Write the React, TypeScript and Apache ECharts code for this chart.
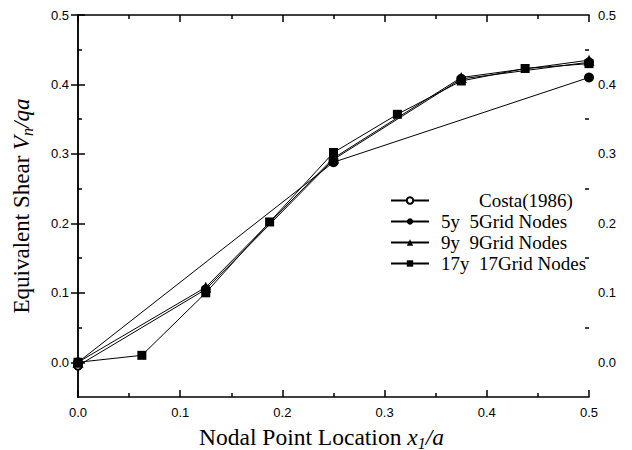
import React, { useEffect, useRef } from "react";
import * as echarts from "echarts";

const costaX = [0, 0.125, 0.25, 0.375, 0.5];
const costaY = [-0.005, 0.105, 0.292, 0.408, 0.432];
const g5X = [0, 0.25, 0.5];
const g5Y = [0, 0.288, 0.41];
const g9X = [0, 0.125, 0.25, 0.375, 0.5];
const g9Y = [0, 0.108, 0.294, 0.41, 0.435];
const g17X = [0, 0.0625, 0.125, 0.1875, 0.25, 0.3125, 0.375, 0.4375, 0.5];
const g17Y = [0, 0.01, 0.1, 0.202, 0.302, 0.357, 0.405, 0.423, 0.43];
const seriesNames = ["Costa(1986)", "5y  5Grid Nodes", "9y  9Grid Nodes", "17y  17Grid Nodes"];
const yMajor = [0, 0.1, 0.2, 0.3, 0.4, 0.5];
const yMinor = [0.05, 0.15, 0.25, 0.35, 0.45];

const zip = (xs: number[], ys: number[]) => xs.map((x, i) => [x, ys[i]]);

export default function App() {
  const ref = useRef<HTMLDivElement>(null);
  useEffect(() => {
    if (!ref.current) return;
    const chart = echarts.init(ref.current, null, { renderer: "svg" });
    const black = "#000";
    const tickLabel = { color: black, fontFamily: "Liberation Sans", fontSize: 13 };
    const mkY = (pos: "left" | "right", withLabels: boolean, ticks: number[], len: number, line: boolean) => ({
      type: "value",
      position: pos,
      min: -0.05,
      max: 0.5,
      axisLine: { show: line, lineStyle: { color: black, width: 1.5 } },
      axisTick: { show: true, inside: true, length: len, customValues: ticks, lineStyle: { color: black, width: 1.5 } },
      axisLabel: withLabels
        ? { show: true, customValues: yMajor, formatter: (v: number) => v.toFixed(1), margin: 9, ...tickLabel }
        : { show: false },
      splitLine: { show: false },
    });
    const mkX = (pos: "top" | "bottom", withLabels: boolean) => ({
      type: "value",
      position: pos,
      min: 0,
      max: 0.5,
      interval: 0.1,
      axisLine: { show: true, onZero: false, lineStyle: { color: black, width: 1.5 } },
      axisTick: { show: true, inside: true, length: 7, lineStyle: { color: black, width: 1.5 } },
      minorTick: { show: true, splitNumber: 2, length: 4, lineStyle: { color: black, width: 1.5 } },
      axisLabel: withLabels
        ? { show: true, formatter: (v: number) => v.toFixed(1), margin: 9, ...tickLabel }
        : { show: false },
      splitLine: { show: false },
    });
    const mkTitle = (size: number, pad: number[]) => ({
      color: black,
      fontFamily: "Liberation Serif",
      fontSize: size,
      padding: pad,
      rich: {
        i: { fontStyle: "italic", fontFamily: "Liberation Serif", fontSize: size, color: black },
        sub: { fontStyle: "italic", fontFamily: "Liberation Serif", fontSize: Math.round(size * 0.68), color: black, padding: [12, 0, 0, 0] },
      },
    });
    const xBottom: any = {
      ...mkX("bottom", true),
      name: "Nodal Point Location {i|x}{sub|1}{i|/a}",
      nameLocation: "middle",
      nameGap: 26,
      nameTextStyle: mkTitle(23.5, [0, 24, 0, 0]),
    };
    const yLeft: any = {
      ...mkY("left", true, yMajor, 7, true),
      name: "Equivalent Shear {i|V}{sub|n}{i|/qa}",
      nameLocation: "middle",
      nameGap: 43,
      nameTextStyle: mkTitle(23, [0, 0, 0, 0]),
    };
    const line = { color: black, width: 1 };
    const option: any = {
      animation: false,
      backgroundColor: "#fff",
      grid: { left: 78, right: 43, top: 15, bottom: 53, outerBoundsMode: "none", containLabel: false },
      xAxis: [xBottom, mkX("top", false)],
      yAxis: [
        yLeft,
        mkY("right", true, yMajor, 7, true),
        mkY("left", false, yMinor, 4, false),
        mkY("right", false, yMinor, 4, false),
      ],
      legend: {
        orient: "vertical",
        left: 385,
        top: 186,
        itemWidth: 38,
        itemHeight: 8,
        itemGap: 2,
        data: seriesNames,
        textStyle: { color: black, fontFamily: "Liberation Serif", fontSize: 19, padding: [0, 0, 0, 7] },
        formatter: (n: string) => (n === seriesNames[0] ? "        " + n : n),
      },
      series: [
        {
          name: seriesNames[0],
          type: "line",
          data: zip(costaX, costaY),
          symbol: "emptyCircle",
          symbolSize: 8,
          lineStyle: line,
          itemStyle: { color: black, borderColor: black, borderWidth: 1 },
          z: 1,
        },
        {
          name: seriesNames[1],
          type: "line",
          data: zip(g5X, g5Y),
          symbol: "circle",
          symbolSize: 10,
          lineStyle: line,
          itemStyle: { color: black },
          z: 2,
        },
        {
          name: seriesNames[2],
          type: "line",
          data: zip(g9X, g9Y),
          symbol: "triangle",
          symbolSize: 11,
          lineStyle: line,
          itemStyle: { color: black },
          z: 3,
        },
        {
          name: seriesNames[3],
          type: "line",
          data: zip(g17X, g17Y),
          symbol: "rect",
          symbolSize: 9,
          lineStyle: line,
          itemStyle: { color: black },
          z: 4,
        },
      ],
    };
    chart.setOption(option);
    return () => chart.dispose();
  }, []);
  return <div ref={ref} style={{ width: 632, height: 450, position: "absolute", left: 0, top: 0 }} />;
}
